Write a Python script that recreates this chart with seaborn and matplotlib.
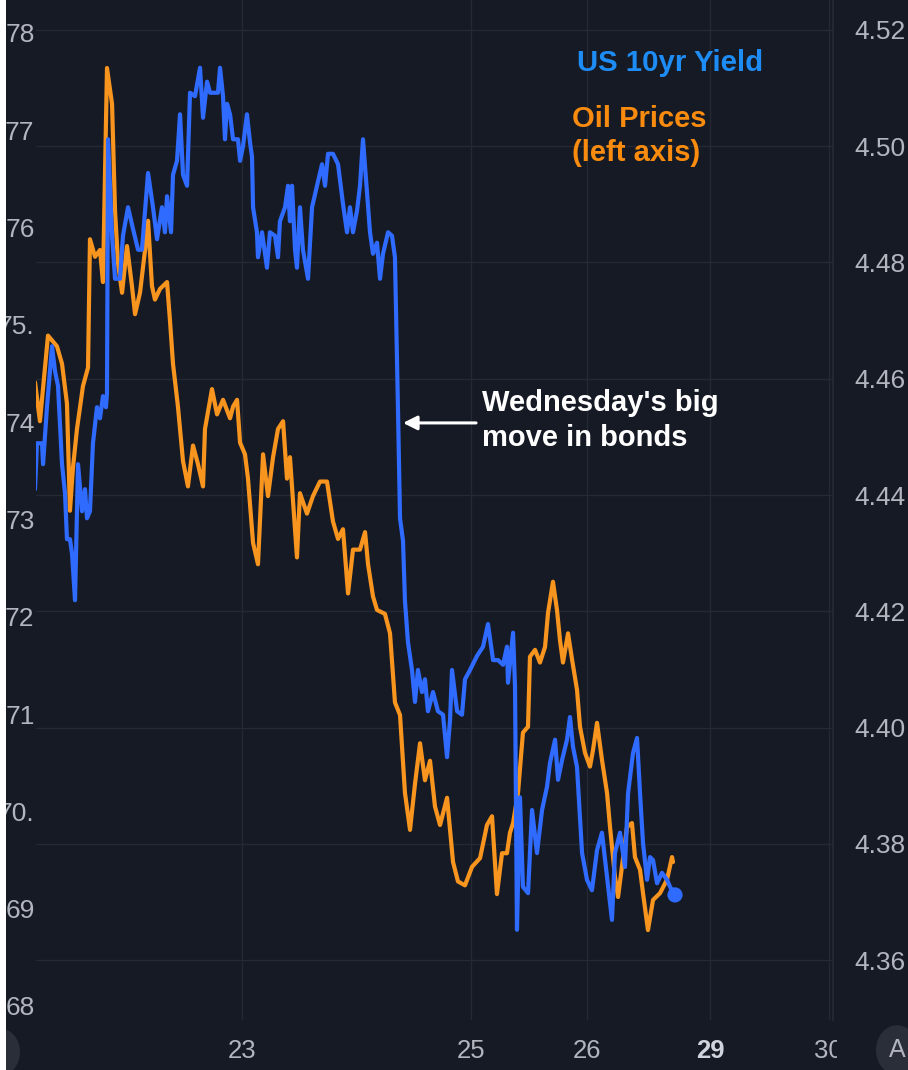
import matplotlib
matplotlib.use("Agg")
import matplotlib.pyplot as plt
import seaborn as sns
import pandas as pd
from matplotlib.patches import Circle, Rectangle
from matplotlib.transforms import Bbox, TransformedBbox

# ---------------- data ----------------
# x positions in trading-day units (22 Apr = 1, 23 Apr = 2, ...)
oil_x = [0.200, 0.243, 0.313, 0.391, 0.435, 0.478, 0.504, 0.530, 0.565, 0.617,
         0.661, 0.678, 0.722, 0.765, 0.791, 0.826, 0.870, 0.896, 0.922, 0.957,
         1.000, 1.043, 1.070, 1.113, 1.157, 1.183, 1.217, 1.243, 1.287, 1.348,
         1.374, 1.400, 1.443, 1.487, 1.530, 1.574, 1.617, 1.661, 1.678, 1.739,
         1.783, 1.835, 1.896, 1.922, 1.957, 1.983, 2.026, 2.052, 2.096, 2.139,
         2.183, 2.226, 2.270, 2.313, 2.357, 2.391, 2.417, 2.478, 2.504, 2.565,
         2.617, 2.678, 2.739, 2.791, 2.835, 2.878, 2.922, 2.965, 3.026, 3.070,
         3.096, 3.139, 3.174, 3.243, 3.287, 3.330, 3.374, 3.417, 3.461, 3.504,
         3.548, 3.591, 3.635, 3.678, 3.722, 3.783, 3.835, 3.878, 3.939, 4.000,
         4.070, 4.130, 4.174, 4.217, 4.261, 4.304, 4.330, 4.357, 4.400, 4.443,
         4.487, 4.504, 4.548, 4.591, 4.635, 4.661, 4.704, 4.739, 4.765, 4.791,
         4.835, 4.870, 4.913, 4.939, 4.983, 5.026, 5.052, 5.087, 5.130, 5.174,
         5.200, 5.243, 5.270, 5.304, 5.348, 5.391, 5.417, 5.461, 5.487, 5.530,
         5.574, 5.635, 5.696, 5.739, 5.748]
oil_price = [74.41, 74.01, 74.89, 74.78, 74.60, 74.19, 73.09, 73.53, 73.93, 74.37,
             74.56, 75.88, 75.70, 75.77, 75.44, 77.64, 77.27, 76.17, 75.63, 75.33,
             75.81, 75.40, 75.11, 75.33, 75.77, 76.07, 75.40, 75.26, 75.37, 75.44,
             75.04, 74.60, 74.16, 73.60, 73.34, 73.76, 73.57, 73.34, 73.93, 74.34,
             74.08, 74.23, 74.04, 74.16, 74.23, 73.79, 73.67, 73.42, 72.76, 72.54,
             73.67, 73.24, 73.64, 73.93, 74.01, 73.42, 73.64, 72.61, 73.27, 73.06,
             73.24, 73.39, 73.39, 72.98, 72.80, 72.90, 72.24, 72.69, 72.69, 72.87,
             72.54, 72.21, 72.07, 72.03, 71.83, 71.12, 70.99, 70.19, 69.81, 70.28,
             70.70, 70.32, 70.52, 70.05, 69.86, 70.14, 69.48, 69.28, 69.24, 69.43,
             69.52, 69.86, 69.95, 69.15, 69.57, 69.57, 69.78, 69.88, 70.19, 70.81,
             70.87, 71.59, 71.66, 71.53, 71.69, 72.04, 72.36, 72.07, 71.76, 71.53,
             71.83, 71.56, 71.25, 70.87, 70.60, 70.46, 70.63, 70.91, 70.53, 70.19,
             69.84, 69.33, 69.12, 69.43, 69.84, 69.88, 69.53, 69.40, 69.16, 68.78,
             69.09, 69.16, 69.30, 69.53, 69.48]

yield_x = [0.200, 0.217, 0.261, 0.270, 0.304, 0.348, 0.374, 0.400, 0.435, 0.461,
           0.478, 0.504, 0.522, 0.548, 0.574, 0.609, 0.635, 0.652, 0.678, 0.704,
           0.739, 0.765, 0.791, 0.817, 0.826, 0.835, 0.870, 0.896, 0.939, 0.965,
           1.009, 1.052, 1.096, 1.130, 1.157, 1.183, 1.226, 1.261, 1.304, 1.330,
           1.348, 1.383, 1.400, 1.435, 1.461, 1.487, 1.522, 1.548, 1.591, 1.635,
           1.661, 1.696, 1.722, 1.791, 1.809, 1.835, 1.852, 1.870, 1.896, 1.922,
           1.965, 1.983, 2.009, 2.043, 2.070, 2.087, 2.096, 2.130, 2.139, 2.174,
           2.217, 2.243, 2.287, 2.313, 2.330, 2.374, 2.400, 2.417, 2.435, 2.461,
           2.478, 2.504, 2.530, 2.574, 2.609, 2.652, 2.696, 2.722, 2.748, 2.791,
           2.835, 2.878, 2.913, 2.939, 2.965, 3.000, 3.026, 3.052, 3.087, 3.113,
           3.139, 3.174, 3.200, 3.226, 3.270, 3.304, 3.330, 3.357, 3.374, 3.400,
           3.417, 3.443, 3.478, 3.504, 3.530, 3.565, 3.591, 3.617, 3.661, 3.704,
           3.748, 3.783, 3.809, 3.826, 3.870, 3.913, 3.939, 3.983, 4.043, 4.096,
           4.139, 4.183, 4.226, 4.270, 4.304, 4.313, 4.357, 4.374, 4.391, 4.417,
           4.443, 4.487, 4.522, 4.565, 4.609, 4.652, 4.678, 4.722, 4.748, 4.783,
           4.826, 4.852, 4.878, 4.913, 4.957, 5.000, 5.043, 5.087, 5.130, 5.174,
           5.217, 5.243, 5.287, 5.330, 5.357, 5.400, 5.435, 5.461, 5.487, 5.522,
           5.548, 5.574, 5.609, 5.652, 5.696, 5.722, 5.765]
yield_pct = [4.4410, 4.4489, 4.4489, 4.4453, 4.4551, 4.4656, 4.4613, 4.4588, 4.4453, 4.4403,
             4.4324, 4.4324, 4.4299, 4.4219, 4.4453, 4.4372, 4.4410, 4.4360, 4.4372, 4.4489,
             4.4551, 4.4532, 4.4570, 4.4551, 4.4575, 4.5012, 4.4846, 4.4772, 4.4772, 4.4846,
             4.4895, 4.4858, 4.4822, 4.4822, 4.4889, 4.4954, 4.4895, 4.4840, 4.4895, 4.4852,
             4.4914, 4.4852, 4.4951, 4.4975, 4.5055, 4.4951, 4.4932, 4.5092, 4.5086, 4.5135,
             4.5049, 4.5111, 4.5092, 4.5092, 4.5135, 4.5086, 4.5012, 4.5073, 4.5055, 4.5012,
             4.5012, 4.4975, 4.5000, 4.5055, 4.5006, 4.4982, 4.4895, 4.4852, 4.4809, 4.4852,
             4.4791, 4.4852, 4.4846, 4.4809, 4.4871, 4.4895, 4.4932, 4.4871, 4.4932, 4.4822,
             4.4791, 4.4895, 4.4822, 4.4772, 4.4895, 4.4932, 4.4969, 4.4932, 4.4987, 4.4987,
             4.4969, 4.4901, 4.4852, 4.4895, 4.4852, 4.4889, 4.4932, 4.5012, 4.4920, 4.4852,
             4.4815, 4.4834, 4.4772, 4.4815, 4.4852, 4.4846, 4.4809, 4.4541, 4.4360, 4.4321,
             4.4218, 4.4147, 4.4099, 4.4044, 4.4099, 4.4061, 4.4083, 4.4028, 4.4061, 4.4028,
             4.4022, 4.3949, 4.4013, 4.4099, 4.4028, 4.4022, 4.4083, 4.4099, 4.4123, 4.4139,
             4.4178, 4.4116, 4.4116, 4.4108, 4.4139, 4.4077, 4.4163, 4.4070, 4.3652, 4.3880,
             4.3726, 4.3715, 4.3858, 4.3784, 4.3858, 4.3898, 4.3939, 4.3979, 4.3910, 4.3944,
             4.3979, 4.4018, 4.3967, 4.3932, 4.3784, 4.3738, 4.3720, 4.3789, 4.3819, 4.3743,
             4.3669, 4.3784, 4.3819, 4.3760, 4.3887, 4.3956, 4.3982, 4.3887, 4.3801, 4.3738,
             4.3777, 4.3772, 4.3732, 4.3750, 4.3738, 4.3726, 4.3712]

x_tick_pos = [2.0, 3.99, 5.0, 6.07, 7.10]
x_tick_labels = ["23", "25", "26", "29", "30"]
oil_ticks = [68, 69, 70, 71, 72, 73, 74, 75, 76, 77, 78]
oil_tick_labels = ["68", "69", "70.", "71", "72", "73", "74", "75.", "76", "77", "78"]
yield_ticks = [4.36, 4.38, 4.40, 4.42, 4.44, 4.46, 4.48, 4.50, 4.52]

series_names = ["US 10yr Yield", "Oil Prices\n(left axis)"]
annotation_text = "Wednesday's big\nmove in bonds"

# ---------------- style ----------------
BG = "#161A25"
GRID = "#252934"
TICK = "#B2B5BE"
BLUE = "#2F6BFF"
BLUE_TXT = "#1E8CF5"
ORANGE = "#F8951F"
ORANGE_TXT = "#F98C0E"

sns.set_theme(style="dark")
plt.rcParams["font.family"] = ["Liberation Sans", "DejaVu Sans"]

W, H = 908, 1070
fig = plt.figure(figsize=(W / 100, H / 100), dpi=100, facecolor=BG)
L, R, T, B = 36, 833, 0, 1020
rect = [L / W, 1 - B / H, (R - L) / W, (B - T) / H]

ax = fig.add_axes(rect)          # grid + right axis (yield scale)
ax.set_facecolor(BG)
ax_o = ax.twinx()                # oil (left axis)
ax_b = ax.twinx()                # yield line on top

xlim = (0.2087, 7.139)
ylim_y = (4.34968, 4.52516)
ylim_o = (67.856, 78.339)

LW = 3.0
# oil line
oil_df = pd.DataFrame({"x": oil_x, "oil": oil_price})
sns.lineplot(data=oil_df, x="x", y="oil", ax=ax_o, color=ORANGE, lw=LW,
             estimator=None, sort=False)
# yield line
y_df = pd.DataFrame({"x": yield_x, "yld": yield_pct})
sns.lineplot(data=y_df, x="x", y="yld", ax=ax_b, color=BLUE, lw=LW,
             estimator=None, sort=False)
sns.scatterplot(x=[yield_x[-1]], y=[yield_pct[-1]], ax=ax_b, color=BLUE,
                s=120, edgecolor="none", zorder=5)

for a in (ax, ax_o, ax_b):
    a.set_xlim(*xlim)
    a.set_xlabel("")
    a.set_ylabel("")
    for s in a.spines.values():
        s.set_visible(False)
ax.set_ylim(*ylim_y)
ax_b.set_ylim(*ylim_y)
ax_o.set_ylim(*ylim_o)

# grid & right-axis ticks
ax.set_yticks(yield_ticks, [f"{v:.2f}" for v in yield_ticks])
ax.set_xticks(x_tick_pos, x_tick_labels)
ax.grid(True, color=GRID, lw=1.0)
ax.yaxis.tick_right()
ax.tick_params(axis="y", length=0, pad=15.5, labelsize=19, labelcolor=TICK,
               right=False, labelright=True, labelleft=False)
ax.tick_params(axis="x", length=0, pad=14, labelsize=18.5, labelcolor=TICK)
ax.spines["right"].set_visible(True)
ax.spines["right"].set_color("#262A35")

xl = ax.get_xticklabels()
xl[3].set_fontweight("bold")
xl[3].set_color("#D1D4DC")
clipbox = TransformedBbox(Bbox.from_extents(0, 0, 837 / W, 1), fig.transFigure)
xl[4].set_clip_on(True)
xl[4].set_clip_box(clipbox)

# left (oil) ticks
ax_o.yaxis.tick_left()
ax_o.set_yticks(oil_ticks, oil_tick_labels)
ax_o.tick_params(axis="y", length=0, pad=1, labelsize=19, labelcolor=TICK,
                 left=False, right=False, labelleft=True, labelright=False)
ax_o.grid(False)

ax_b.set_yticks([])
ax_b.grid(False)
ax_b.tick_params(axis="both", length=0, labelleft=False, labelright=False)

# legend-like labels
ax_b.text(0.679, 0.938, series_names[0], transform=ax_b.transAxes, color=BLUE_TXT,
          fontsize=21.2, fontweight="bold", ha="left", va="center")
ax_b.text(0.672, 0.8665, series_names[1], transform=ax_b.transAxes, color=ORANGE_TXT,
          fontsize=21, fontweight="bold", ha="left", va="center", linespacing=1.3)

# annotation
ax_b.annotate("", xy=(3.40, 4.4524), xytext=(4.035, 4.4524),
              arrowprops=dict(arrowstyle="-|>,head_length=0.7,head_width=0.35",
                              color="white", lw=2.2, shrinkA=0, shrinkB=0))
ax_b.text(4.087, 4.4528, annotation_text, color="white", fontsize=21,
          fontweight="bold", ha="left", va="center", linespacing=1.3)

# UI decorations (buttons at bottom corners, white edge strip)
fig.patches.append(Circle((0.0, 1 - 1052 / H), 20 / W, transform=fig.transFigure,
                          facecolor="#2A2E39", edgecolor="none", zorder=3))
btn = Circle((897 / W, 1 - 1050 / H), 21 / W, transform=fig.transFigure,
             facecolor="#2A2E39", edgecolor="none", zorder=3)
fig.patches.append(btn)
fig.text(906 / W, 1 - 1050 / H, "A", color=TICK, fontsize=18, ha="right",
         va="center", zorder=4)
fig.patches.append(Rectangle((0, 0), 6 / W, 1, transform=fig.transFigure,
                             facecolor="white", edgecolor="none", zorder=10))

fig.savefig("out.png", dpi=100, facecolor=BG)
